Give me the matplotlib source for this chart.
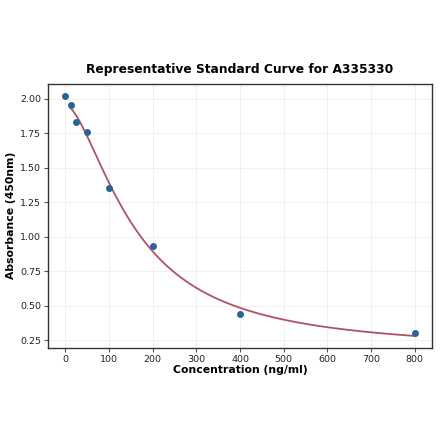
import numpy as np
import matplotlib
matplotlib.use("Agg")
import matplotlib.pyplot as plt

conc = [0, 12.5, 25, 50, 100, 200, 400, 800]
absorb = [2.02, 1.955, 1.83, 1.76, 1.355, 0.935, 0.44, 0.30]


def four_pl(x, p):
    a, b, c, d = p
    return d + (a - d) / (1 + (x / c) ** b)


# simple Levenberg-Marquardt fit of a 4PL on the non-zero standards
xs = np.array(conc[1:], dtype=float)
ys = np.array(absorb[1:], dtype=float)
p = np.array([2.0, 1.5, 150.0, 0.15])
lam = 1e-3
for _ in range(300):
    r = ys - four_pl(xs, p)
    J = np.zeros((len(xs), 4))
    for k in range(4):
        dp = np.zeros(4)
        dp[k] = 1e-6 * max(abs(p[k]), 1)
        J[:, k] = (four_pl(xs, p + dp) - four_pl(xs, p)) / dp[k]
    A = J.T @ J
    step = np.linalg.solve(A + lam * np.diag(np.diag(A)), J.T @ r)
    new = p + step
    if new[2] > 0 and np.sum((ys - four_pl(xs, new)) ** 2) < np.sum(r ** 2):
        p = new
        lam *= 0.5
    else:
        lam *= 5

xfit = np.linspace(12.5, 800, 300)
yfit = four_pl(xfit, p)

fig = plt.figure(figsize=(4.4, 4.41), dpi=100)
ax = fig.add_axes([0.109, 0.211, 0.873, 0.599])
ax.grid(True, color="#eeeeee", linewidth=0.6)
ax.set_axisbelow(True)
ax.plot(xfit, yfit, color="#b0506a", linewidth=1.3)
ax.scatter(conc, absorb, color="#2a6496", s=16, zorder=3)

ax.set_title("Representative Standard Curve for A335330", fontsize=8.8, fontweight="bold", pad=8)
ax.set_xlabel("Concentration (ng/ml)", fontsize=7.8, fontweight="bold", labelpad=1)
ax.set_ylabel("Absorbance (450nm)", fontsize=7.8, fontweight="bold", labelpad=3)
ax.set_xticks([0, 100, 200, 300, 400, 500, 600, 700, 800])
ax.set_yticks([0.25, 0.5, 0.75, 1.0, 1.25, 1.5, 1.75, 2.0])
ax.yaxis.set_major_formatter(matplotlib.ticker.FormatStrFormatter("%.2f"))
ax.tick_params(labelsize=6.8, length=3, pad=2, color="#555555", labelcolor="#222222")
for s in ax.spines.values():
    s.set_color("#333333")
    s.set_linewidth(1.0)

fig.savefig("out.png", dpi=100)
